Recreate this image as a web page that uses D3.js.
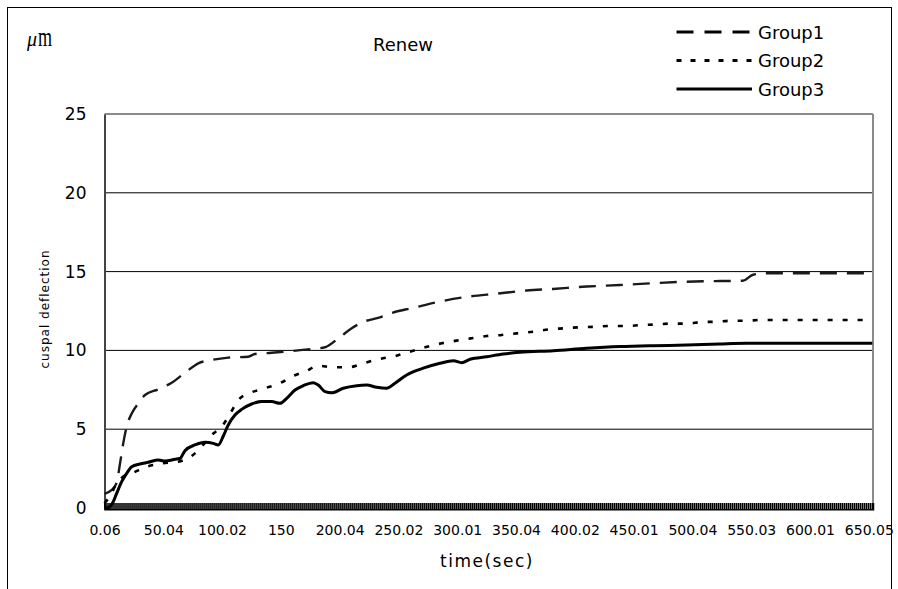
<!DOCTYPE html>
<html>
<head>
<meta charset="utf-8">
<script src="https://cdn.jsdelivr.net/npm/d3@7"></script>
<style>
  html, body { margin: 0; padding: 0; background: #fff; }
  svg { display: block; }
  text { font-family: "DejaVu Sans", sans-serif; fill: #000; }
</style>
</head>
<body>
<svg id="chart" width="898" height="589"></svg>
<script>
// Cuspal deflection (µm) over time (sec), three groups
const seriesNames = ["Group1", "Group2", "Group3"];

const group1 = [
  [0.06, 0.9], [6.2, 1.15], [10.4, 1.6], [13.2, 2.8], [16.0, 4.1], [18.9, 5.16],
  [23.2, 6.0], [28.8, 6.64], [34.5, 7.17], [45.8, 7.53], [57.2, 7.95], [68.5, 8.58],
  [79.8, 9.18], [91.2, 9.39], [105.3, 9.54], [122.3, 9.6], [128.0, 9.77],
  [142.2, 9.85], [153.5, 9.92], [177.4, 10.1], [187.6, 10.2], [200.3, 10.85],
  [210.3, 11.4], [219.9, 11.8], [234.3, 12.1], [245.4, 12.4], [262.4, 12.7],
  [285.3, 13.1], [308.3, 13.4], [333.8, 13.6], [359.3, 13.8], [381.4, 13.9],
  [410.1, 14.05], [438.4, 14.15], [466.5, 14.26], [495.1, 14.36], [523.4, 14.4],
  [543.0, 14.42], [551.6, 14.8], [563.2, 14.9], [653.0, 14.9]
];

const group2 = [
  [0.06, 0.3], [5.0, 0.8], [10.0, 1.5], [16.0, 2.0], [23.2, 2.2], [36.0, 2.62],
  [48.7, 2.83], [62.8, 2.94], [74.2, 3.3], [82.7, 3.9], [91.2, 4.63], [100.8, 5.27],
  [107.5, 6.07], [113.8, 6.85], [123.8, 7.3], [136.5, 7.6], [150.1, 7.95],
  [160.6, 8.38], [170.6, 8.65], [181.9, 9.03], [194.6, 8.93], [207.4, 8.93],
  [220.1, 9.18], [232.9, 9.44], [247.1, 9.64], [259.8, 9.92], [272.6, 10.2],
  [286.8, 10.45], [299.5, 10.62], [312.3, 10.77], [325.1, 10.91], [337.8, 10.98],
  [350.6, 11.08], [364.7, 11.19], [378.9, 11.34], [390.2, 11.4], [404.4, 11.47],
  [417.2, 11.5], [429.9, 11.55], [444.1, 11.55], [455.4, 11.6], [469.6, 11.65],
  [480.9, 11.7], [495.1, 11.7], [507.9, 11.8], [520.6, 11.82], [531.9, 11.88],
  [546.1, 11.88], [557.5, 11.93], [653.0, 11.93]
];

const group3 = [
  [0.06, 0.0], [4.0, 0.05], [7.5, 0.4], [10.4, 0.93], [14.7, 1.67], [18.9, 2.2],
  [23.2, 2.62], [30.2, 2.79], [37.3, 2.9], [45.8, 3.05], [51.5, 2.98], [60.0, 3.09],
  [64.3, 3.15], [68.5, 3.64], [77.0, 4.0], [85.5, 4.17], [92.6, 4.1], [96.8, 4.0],
  [101.1, 4.57], [105.3, 5.27], [111.0, 5.9], [116.7, 6.26], [125.2, 6.6],
  [133.7, 6.75], [142.2, 6.75], [149.3, 6.64], [155.0, 6.96], [162.1, 7.49],
  [169.1, 7.76], [177.6, 7.95], [181.9, 7.8], [187.6, 7.38], [193.3, 7.31],
  [203.1, 7.6], [214.5, 7.76], [223.0, 7.8], [231.5, 7.66], [240.0, 7.6],
  [247.1, 7.92], [257.0, 8.44], [271.1, 8.87], [285.4, 9.18], [296.7, 9.35],
  [303.8, 9.22], [310.9, 9.44], [325.1, 9.6], [339.2, 9.77], [353.4, 9.88],
  [381.7, 9.98], [410.1, 10.13], [438.4, 10.24], [466.7, 10.3], [495.1, 10.34],
  [523.4, 10.41], [546.1, 10.45], [653.0, 10.45]
];

const xTickLabels = [0.06, 50.04, 100.02, 150, 200.04, 250.02, 300.01, 350.04,
                     400.02, 450.01, 500.04, 550.03, 600.01, 650.05];
const yTickLabels = [0, 5, 10, 15, 20, 25];

const svg = d3.select("#chart");

// outer frame of the figure
svg.append("rect")
  .attr("x", 7.5).attr("y", 7.5)
  .attr("width", 884).attr("height", 620)
  .attr("fill", "none").attr("stroke", "#000").attr("stroke-width", 1);

const plot = { left: 104.5, right: 873, top: 114, bottom: 508 };

const x = d3.scaleLinear().domain([0.06, 653.6]).range([plot.left, plot.right]);
const y = d3.scaleLinear().domain([0, 25]).range([plot.bottom, plot.top]);

// horizontal gridlines
svg.append("g")
  .selectAll("line")
  .data(yTickLabels.filter(v => v > 0 && v < 25))
  .join("line")
  .attr("x1", plot.left).attr("x2", plot.right)
  .attr("y1", d => y(d)).attr("y2", d => y(d))
  .attr("stroke", "#000").attr("stroke-width", 1);

// plot frame: top and right in grey
svg.append("line")
  .attr("x1", plot.left).attr("x2", plot.right)
  .attr("y1", y(25)).attr("y2", y(25))
  .attr("stroke", "#8a8a8a").attr("stroke-width", 2);
svg.append("line")
  .attr("x1", plot.right).attr("x2", plot.right)
  .attr("y1", y(25)).attr("y2", plot.bottom)
  .attr("stroke", "#8a8a8a").attr("stroke-width", 2);

// y axis
const yAxis = svg.append("g")
  .attr("transform", `translate(${plot.left},0)`)
  .call(d3.axisLeft(y).tickValues(yTickLabels).tickSize(0).tickPadding(18));
yAxis.select(".domain").attr("stroke", "#444").attr("stroke-width", 2);
yAxis.selectAll("text")
  .style("font-family", "DejaVu Sans, sans-serif")
  .style("font-size", "17px").attr("fill", "#000");

// lines
const line = d3.line()
  .x(d => x(d[0]))
  .y(d => y(d[1]))
  .curve(d3.curveMonotoneX);

const styles = [
  { data: group1, dash: "17,10", width: 2.4, color: "#1a1a1a" },
  { data: group2, dash: "5,10", width: 2.6, color: "#000" },
  { data: group3, dash: null, width: 3, color: "#000" }
];

svg.append("g")
  .selectAll("path")
  .data(styles)
  .join("path")
  .attr("d", d => line(d.data))
  .attr("fill", "none")
  .attr("stroke", d => d.color)
  .attr("stroke-width", d => d.width)
  .attr("stroke-dasharray", d => d.dash)
  .attr("stroke-linejoin", "round");

// x axis: dense sample ticks form a heavy baseline
const sampleTicks = d3.range(0.06, 653.6, 1.7);
const xBand = svg.append("g")
  .attr("transform", `translate(0,${plot.bottom + 1.3})`)
  .call(d3.axisTop(x).tickValues(sampleTicks).tickSize(6.3).tickFormat(""));
xBand.select(".domain").attr("stroke", "#000").attr("stroke-width", 1.5);
xBand.selectAll(".tick line").attr("stroke", "#000").attr("stroke-width", 1.6);

// x tick labels
const xAxis = svg.append("g")
  .attr("transform", `translate(0,${plot.bottom})`)
  .call(d3.axisBottom(x).tickValues(xTickLabels).tickSize(0).tickPadding(17)
        .tickFormat(d => String(d)));
xAxis.select(".domain").remove();
xAxis.selectAll("text")
  .style("font-family", "DejaVu Sans, sans-serif")
  .style("font-size", "14px").attr("fill", "#000");

// axis titles
svg.append("text")
  .attr("x", 487).attr("y", 567)
  .attr("text-anchor", "middle")
  .style("font-size", "17px").style("letter-spacing", "1.5px")
  .text("time(sec)");

svg.append("text")
  .attr("transform", "translate(49,309) rotate(-90)")
  .attr("text-anchor", "middle")
  .style("font-size", "12px").style("letter-spacing", "1px")
  .text("cuspal deflection");

// unit label
const unit = svg.append("g").attr("transform", "translate(27,46)");
unit.append("text")
  .style("font-family", "Liberation Serif, serif")
  .style("font-style", "italic").style("font-size", "20px")
  .text("μ");
unit.append("text")
  .attr("transform", "translate(11,0) scale(0.95,1.45)")
  .style("font-family", "Liberation Serif, serif")
  .style("font-size", "19px")
  .text("m");

// chart title
svg.append("text")
  .attr("x", 403).attr("y", 50.5)
  .attr("text-anchor", "middle")
  .style("font-size", "18px")
  .text("Renew");

// legend
const legend = svg.append("g");
const legendRows = legend.selectAll("g")
  .data(styles.map((s, i) => ({ ...s, name: seriesNames[i], row: i })))
  .join("g")
  .attr("transform", d => `translate(0,${32 + d.row * 28.5})`);
legendRows.append("line")
  .attr("x1", 676.5).attr("x2", 752)
  .attr("y1", 0).attr("y2", 0)
  .attr("stroke", "#000")
  .attr("stroke-width", 3)
  .attr("stroke-dasharray", d => d.row === 0 ? "17,11" : d.row === 1 ? "5,9" : null);
legendRows.append("text")
  .attr("x", 758).attr("y", 6.5)
  .style("font-size", "18px")
  .text(d => d.name);
</script>
</body>
</html>
